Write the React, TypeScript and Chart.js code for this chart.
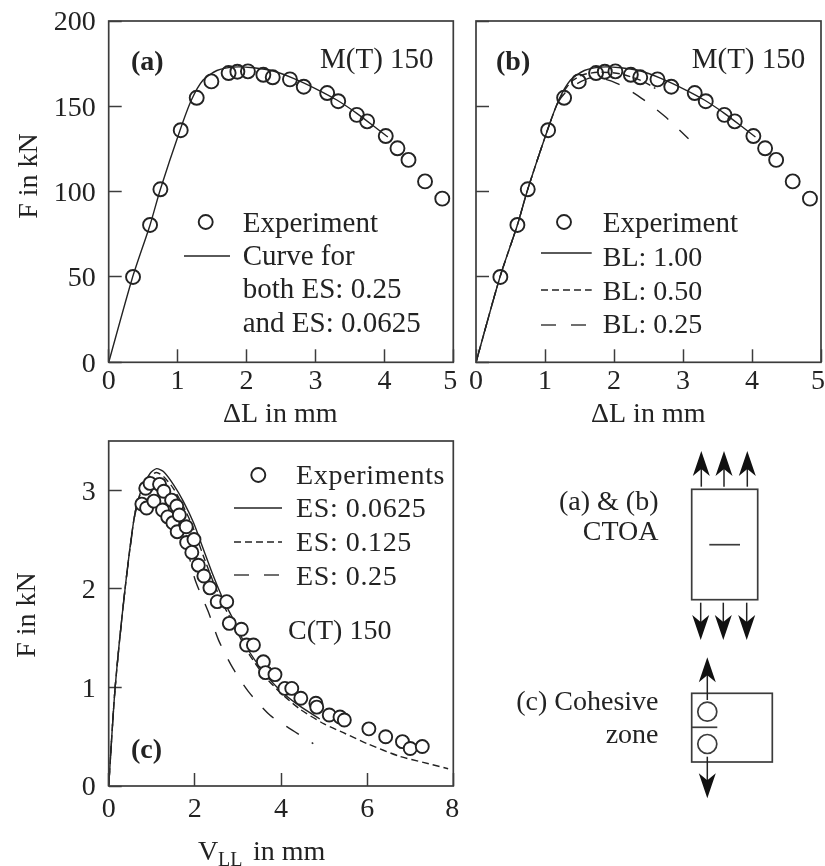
import React, { useEffect, useRef } from "react";
import { Chart, registerables } from "chart.js";

Chart.register(...registerables);

// Panels (a) and (b): experiment
const expDL = [0.353, 0.6, 0.75, 1.045, 1.277, 1.49, 1.74, 1.867, 2.02, 2.244, 2.38, 2.63, 2.83, 3.17, 3.33, 3.6, 3.75, 4.02, 4.19, 4.35, 4.59, 4.84];
const expF = [50, 80.5, 101.4, 136, 155, 164.6, 169.5, 170.3, 170.5, 168.5, 167, 165.8, 161.5, 157.8, 153, 145, 141.2, 132.6, 125.4, 118.6, 106, 95.9];
// Curve, BL 1.00
const curveDL = [0, 0.34, 0.6, 0.75, 1.035, 1.2, 1.37, 1.57, 1.81, 2.1, 2.39, 2.68, 3.02, 3.31, 3.6, 3.89, 4.05];
const curveF = [0, 49, 80.5, 101.4, 136, 153.7, 165.4, 171, 173, 172.6, 170.7, 166.4, 160, 153.7, 145.9, 137, 132];
const bl50DL = [0, 0.34, 0.6, 0.75, 1.035, 1.2, 1.37, 1.55, 1.8, 2.1, 2.4, 2.6];
const bl50F = [0, 49, 80.5, 101.4, 136, 153.5, 164, 168.5, 170, 169, 165, 160.5];
const bl25DL = [0, 0.34, 0.6, 0.75, 1.035, 1.2, 1.37, 1.7, 2.04, 2.4, 2.74, 3.08];
const bl25F = [0, 49, 80.5, 101.4, 136, 153, 161, 167, 163.5, 154.7, 144, 131];

// Panel (c)
const expV = [0.77, 0.88, 0.86, 0.96, 1.05, 1.18, 1.28, 1.25, 1.37, 1.46, 1.49, 1.58, 1.64, 1.59, 1.8, 1.81, 1.98, 1.93, 2.08, 2.21, 2.35, 2.52, 2.74, 2.8, 3.08, 3.2, 3.36, 3.59, 3.64, 3.86, 4.09, 4.25, 4.46, 4.81, 4.83, 5.12, 5.37, 5.47, 6.04, 6.43, 6.82, 7.0, 7.28];
const expFc = [2.86, 2.82, 3.02, 3.07, 2.89, 3.06, 2.99, 2.8, 2.73, 2.9, 2.67, 2.84, 2.75, 2.58, 2.63, 2.47, 2.5, 2.37, 2.24, 2.13, 2.01, 1.87, 1.87, 1.65, 1.59, 1.43, 1.43, 1.26, 1.15, 1.13, 0.99, 0.99, 0.89, 0.84, 0.8, 0.72, 0.7, 0.67, 0.58, 0.5, 0.45, 0.38, 0.4];
const es0625V = [0, 0.15, 0.38, 0.61, 0.77, 0.96, 1.11, 1.27, 1.5, 1.73, 1.97, 2.2, 2.43, 2.66, 2.89, 3.2, 3.59, 3.98, 4.44, 4.9];
const es0625F = [0, 1, 2, 2.77, 3.02, 3.17, 3.22, 3.19, 3.06, 2.89, 2.67, 2.4, 2.13, 1.89, 1.69, 1.41, 1.16, 0.97, 0.81, 0.68];
const es125V = [0, 0.15, 0.38, 0.61, 0.77, 0.96, 1.11, 1.27, 1.5, 1.73, 1.97, 2.2, 2.43, 2.66, 2.89, 3.2, 3.59, 3.98, 4.44, 5, 5.5, 6, 6.76, 7.3, 7.88];
const es125F = [0, 1, 2, 2.77, 3.0, 3.14, 3.18, 3.14, 3.02, 2.84, 2.61, 2.33, 2.07, 1.84, 1.65, 1.38, 1.13, 0.95, 0.78, 0.63, 0.53, 0.43, 0.3, 0.24, 0.175];
const es25V = [0, 0.15, 0.38, 0.61, 0.77, 0.96, 1.11, 1.27, 1.5, 1.73, 2.0, 2.31, 2.55, 2.89, 3.24, 3.74, 4.32, 4.75];
const es25F = [0, 1, 2, 2.75, 2.96, 3.08, 3.1, 3.04, 2.85, 2.58, 2.1, 1.77, 1.48, 1.19, 0.96, 0.72, 0.55, 0.43];

const ticksDL = [0, 1, 2, 3, 4, 5];
const ticksFmt = [0, 50, 100, 150, 200];
const ticksV = [0, 2, 4, 6, 8];
const ticksFc = [0, 1, 2, 3];

const SERIF = '"Liberation Serif", serif';
const INK = "#232323";
const FS = 28;

const zip = (xs: number[], ys: number[]) => xs.map((x, i) => ({ x, y: ys[i] }));

type T = { s: string; x: number; y: number; bold?: boolean; sp?: number; rot?: boolean; size?: number };
type L = { x1: number; x2: number; y: number; dash: number[] };
type Deco = { texts: T[]; lines: L[]; dot: { x: number; y: number; r: number } };

const decoPlugin = (d: Deco) => ({
  id: "deco",
  afterDatasetsDraw(chart: any) {
    const { ctx, chartArea: a } = chart;
    ctx.save();
    ctx.strokeStyle = "#3c3c3c";
    ctx.lineWidth = 1.7;
    ctx.strokeRect(a.left, a.top, a.right - a.left, a.bottom - a.top);
    ctx.strokeStyle = INK;
    ctx.lineWidth = 1.3;
    for (const l of d.lines) {
      ctx.setLineDash(l.dash);
      ctx.beginPath();
      ctx.moveTo(l.x1, l.y);
      ctx.lineTo(l.x2, l.y);
      ctx.stroke();
    }
    ctx.setLineDash([]);
    ctx.lineWidth = 1.9;
    ctx.beginPath();
    ctx.arc(d.dot.x, d.dot.y, d.dot.r, 0, Math.PI * 2);
    ctx.stroke();
    ctx.fillStyle = INK;
    ctx.textAlign = "left";
    ctx.textBaseline = "alphabetic";
    for (const t of d.texts) {
      ctx.font = `${t.bold ? "bold " : ""}${t.size ?? FS}px ${SERIF}`;
      (ctx as any).letterSpacing = `${t.sp ?? 0}px`;
      if (t.rot) {
        ctx.save();
        ctx.translate(t.x, t.y);
        ctx.rotate(-Math.PI / 2);
        ctx.textAlign = "center";
        ctx.fillText(t.s, 0, 0);
        ctx.restore();
      } else {
        ctx.fillText(t.s, t.x, t.y);
      }
    }
    (ctx as any).letterSpacing = "0px";
    ctx.restore();
  },
});

type Cfg = {
  datasets: any[];
  xMax: number;
  yMax: number;
  xTicks: number[];
  yTicks: number[];
  left: number;
  right: number;
  top: number;
  bottom: number;
  w: number;
  h: number;
  showY: boolean;
  xPad: number;
  lastNudge: number;
  deco: Deco;
};

const noMargins = (s: any) => {
  s.paddingLeft = 0;
  s.paddingRight = 0;
  s.paddingTop = 0;
  s.paddingBottom = 0;
};

// Fine offset of the tick labels the scale lays out.
const nudgeLabels = (s: any, fn: (i: number, n: number) => [number, number]) => {
  if (s.__nudged) return;
  s.__nudged = true;
  const orig = s._computeLabelItems;
  s._computeLabelItems = function (area: any) {
    const items = orig.call(s, area);
    return items.map((it: any, i: number) => {
      const [dx, dy] = fn(i, items.length);
      const [tx, ty] = it.options.translation;
      return { ...it, options: { ...it.options, translation: [tx + dx, ty + dy] } };
    });
  };
};

function Panel({ cfg, style }: { cfg: Cfg; style: React.CSSProperties }) {
  const ref = useRef<HTMLCanvasElement>(null);
  useEffect(() => {
    const common = { drawOnChartArea: false, tickLength: -13, tickWidth: 1.5, tickColor: "#3c3c3c" };
    const chart = new Chart(ref.current as HTMLCanvasElement, {
      type: "scatter",
      data: { datasets: cfg.datasets },
      options: {
        animation: false,
        responsive: false,
        layout: { padding: { left: 0, top: cfg.top, right: cfg.w - cfg.right, bottom: 0 } },
        plugins: { legend: { display: false }, tooltip: { enabled: false } },
        scales: {
          x: {
            type: "linear",
            min: 0,
            max: cfg.xMax,
            grid: common,
            border: { display: false },
            afterFit: (s: any) => {
              s.height = cfg.h - cfg.bottom;
              noMargins(s);
              nudgeLabels(s, (i, n) => [i === n - 1 ? cfg.lastNudge : 0, 0]);
            },
            afterBuildTicks: (s: any) => { s.ticks = cfg.xTicks.map((value) => ({ value })); },
            ticks: { autoSkip: false, maxRotation: 0, color: INK, padding: cfg.xPad, font: { family: SERIF, size: FS } },
          },
          y: {
            type: "linear",
            min: 0,
            max: cfg.yMax,
            grid: common,
            border: { display: false },
            afterFit: (s: any) => {
              s.width = cfg.left;
              noMargins(s);
              nudgeLabels(s, () => [0, 2]);
            },
            afterBuildTicks: (s: any) => { s.ticks = cfg.yTicks.map((value) => ({ value })); },
            ticks: { display: cfg.showY, autoSkip: false, color: INK, padding: 26, font: { family: SERIF, size: FS } },
          },
        },
      } as any,
      plugins: [decoPlugin(cfg.deco)],
    });
    return () => chart.destroy();
  }, []);
  return <canvas ref={ref} width={cfg.w} height={cfg.h} style={{ position: "absolute", ...style }} />;
}

const scatterSet = (label: string, xs: number[], ys: number[], r: number, fill: string) => ({
  label,
  data: zip(xs, ys),
  showLine: false,
  pointRadius: r,
  pointBorderWidth: 1.9,
  pointBorderColor: INK,
  pointBackgroundColor: fill,
});
const lineSet = (label: string, xs: number[], ys: number[], dash: number[]) => ({
  label,
  data: zip(xs, ys),
  showLine: true,
  tension: 0.25,
  pointRadius: 0,
  borderWidth: 1.4,
  borderColor: INK,
  borderDash: dash,
});

const D50 = [7, 4];
const D25 = [15, 15];
const LS = 29;

const cfgA: Cfg = {
  datasets: [
    scatterSet("Experiment", expDL, expF, 7, "transparent"),
    lineSet("Curve for both ES: 0.25 and ES: 0.0625", curveDL, curveF, []),
  ],
  xMax: 5, yMax: 200, xTicks: ticksDL, yTicks: ticksFmt,
  left: 108.7, right: 453.3, top: 21, bottom: 362.3, w: 465, h: 430, showY: true, xPad: 16, lastNudge: -3,
  deco: {
    dot: { x: 205.7, y: 222, r: 7 },
    lines: [{ x1: 184, x2: 230, y: 256, dash: [] }],
    texts: [
      { s: "F in kN", x: 37, y: 176, rot: true },
      { s: "ΔL in mm", x: 223, y: 421.5 },
      { s: "(a)", x: 131, y: 70, bold: true },
      { s: "M(T) 150", x: 320, y: 68, size: LS },
      { s: "Experiment", x: 242.7, y: 232, size: LS },
      { s: "Curve for", x: 242.7, y: 265, size: LS },
      { s: "both ES: 0.25", x: 242.7, y: 298, size: LS },
      { s: "and ES: 0.0625", x: 242.7, y: 331.5, size: LS },
    ],
  },
};

const cfgB: Cfg = {
  datasets: [
    scatterSet("Experiment", expDL, expF, 7, "transparent"),
    lineSet("BL: 1.00", curveDL, curveF, []),
    lineSet("BL: 0.50", bl50DL, bl50F, D50),
    lineSet("BL: 0.25", bl25DL, bl25F, D25),
  ],
  xMax: 5, yMax: 200, xTicks: ticksDL, yTicks: ticksFmt,
  left: 11, right: 356, top: 21, bottom: 362.3, w: 380, h: 430, showY: false, xPad: 16, lastNudge: -3,
  deco: {
    dot: { x: 99, y: 222, r: 7 },
    lines: [
      { x1: 76, x2: 126.7, y: 253, dash: [] },
      { x1: 76, x2: 126.7, y: 290, dash: D50 },
      { x1: 76, x2: 126.7, y: 325, dash: D25 },
    ],
    texts: [
      { s: "ΔL in mm", x: 126, y: 421.5 },
      { s: "(b)", x: 31, y: 70, bold: true },
      { s: "M(T) 150", x: 226.7, y: 68, size: LS },
      { s: "Experiment", x: 137.7, y: 232, size: LS },
      { s: "BL: 1.00", x: 137.7, y: 266 },
      { s: "BL: 0.50", x: 137.7, y: 300 },
      { s: "BL: 0.25", x: 137.7, y: 333 },
    ],
  },
};

const cfgC: Cfg = {
  datasets: [
    scatterSet("Experiments", expV, expFc, 6.5, "#ffffff"),
    lineSet("ES: 0.0625", es0625V, es0625F, []),
    lineSet("ES: 0.125", es125V, es125F, D50),
    lineSet("ES: 0.25", es25V, es25F, D25),
  ],
  xMax: 8, yMax: 3.5, xTicks: ticksV, yTicks: ticksFc,
  left: 108.7, right: 453.3, top: 11, bottom: 356, w: 470, h: 436, showY: true, xPad: 20, lastNudge: -1,
  deco: {
    dot: { x: 258.3, y: 45, r: 7 },
    lines: [
      { x1: 234, x2: 282, y: 78, dash: [] },
      { x1: 234, x2: 282, y: 112, dash: D50 },
      { x1: 234, x2: 282, y: 145, dash: D25 },
    ],
    texts: [
      { s: "F in kN", x: 35, y: 185, rot: true },
      { s: "V", x: 198, y: 430 },
      { s: "LL", x: 218, y: 436, size: 20 },
      { s: "in mm", x: 253, y: 430 },
      { s: "(c)", x: 131, y: 328, bold: true },
      { s: "C(T) 150", x: 288, y: 209 },
      { s: "Experiments", x: 296, y: 54, sp: 0.7 },
      { s: "ES: 0.0625", x: 296, y: 87, sp: 0.6 },
      { s: "ES: 0.125", x: 296, y: 120.5, sp: 0.6 },
      { s: "ES: 0.25", x: 296, y: 155, sp: 0.6 },
    ],
  },
};

const Arrow = ({ x, from, tip }: { x: number; from: number; tip: number }) => {
  const s = tip < from ? 1 : -1;
  return (
    <g>
      <line x1={x} y1={from} x2={x} y2={tip + s * 14} stroke={INK} strokeWidth={1.5} />
      <polygon
        points={`${x},${tip} ${x - 8.5},${tip + s * 25} ${x},${tip + s * 18} ${x + 8.5},${tip + s * 25}`}
        fill="#111"
      />
    </g>
  );
};

function Diagram() {
  const textProps = { fontFamily: SERIF, fontSize: FS, fill: INK, textAnchor: "end" as const };
  const box = { fill: "none", stroke: "#3c3c3c", strokeWidth: 1.7 };
  return (
    <svg width={825} height={866} style={{ position: "absolute", left: 0, top: 0, pointerEvents: "none" }}>
      <text x={658.5} y={510} {...textProps}>(a) &amp; (b)</text>
      <text x={658.5} y={540} {...textProps}>CTOA</text>
      <text x={658.5} y={710} {...textProps}>(c) Cohesive</text>
      <text x={658.5} y={742.5} {...textProps}>zone</text>
      <rect x={691.7} y={489.3} width={66} height={110.4} {...box} />
      <line x1={709.3} x2={740} y1={544.7} y2={544.7} {...box} />
      {[701.3, 724, 747.3].map((x) => <Arrow key={x} x={x} from={486.7} tip={451} />)}
      {[700.7, 723.3, 746.7].map((x) => <Arrow key={x} x={x} from={602.7} tip={640} />)}
      <rect x={691.7} y={693.3} width={80.6} height={68.7} {...box} />
      <line x1={691.7} x2={717.3} y1={727.3} y2={727.3} {...box} />
      <circle cx={707.3} cy={711.7} r={9.5} {...box} />
      <circle cx={707.3} cy={744} r={9.5} {...box} />
      <Arrow x={707.3} from={700} tip={657.3} />
      <Arrow x={707.3} from={756.7} tip={798.3} />
    </svg>
  );
}

export default function App() {
  return (
    <div style={{ position: "absolute", left: 0, top: 0, width: 825, height: 866, overflow: "hidden", background: "#fff" }}>
      <Panel cfg={cfgA} style={{ left: 0, top: 0 }} />
      <Panel cfg={cfgB} style={{ left: 465, top: 0 }} />
      <Panel cfg={cfgC} style={{ left: 0, top: 430 }} />
      <Diagram />
    </div>
  );
}
